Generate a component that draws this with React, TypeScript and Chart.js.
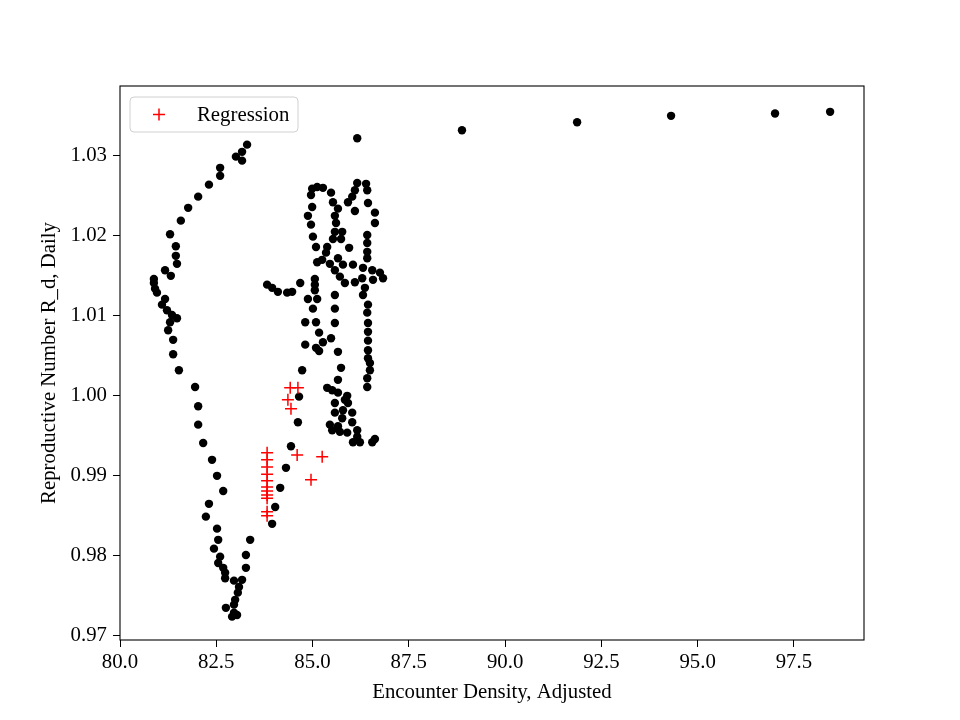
import { useEffect, useRef } from "react";
import { Chart, registerables } from "chart.js";
Chart.register(...registerables);

const blackX = [
  86.16, 88.88, 91.87, 94.31, 97.01, 98.44,
  83.30, 83.17, 83.01, 83.17, 82.60, 82.60, 82.31, 82.03, 81.77, 81.58, 81.30, 81.45, 81.45, 81.48,
  81.17, 81.32, 80.88, 80.88, 80.91, 80.96, 81.17, 81.09, 81.22, 81.35, 81.48, 81.30, 81.25, 81.38,
  81.38, 81.53, 81.95, 82.03, 82.03, 82.16, 82.39, 82.52, 82.68, 82.31, 82.23, 82.52, 82.55, 82.44,
  82.60, 82.55, 82.68, 82.73, 82.73, 82.96, 83.17, 83.09, 83.06, 82.99, 82.96, 82.75, 82.96, 82.91,
  83.04, 83.27, 83.27, 83.38, 83.95, 84.03, 84.16, 84.31, 84.44, 84.62, 84.65, 84.73,
  83.82, 83.95, 84.10, 84.34, 84.47, 84.68,
  85.06, 85.06, 85.06, 84.88, 85.12, 85.01, 84.81, 85.09, 85.17, 85.27, 85.48, 84.81, 85.09, 85.17, 85.66,
  84.99, 85.12, 85.27, 84.96, 85.48, 85.53, 84.99, 85.66, 84.88, 85.58, 85.61, 84.96, 85.58, 85.77,
  85.01, 85.53, 85.74, 85.09, 85.38, 85.95, 85.35, 85.66, 85.12, 85.25, 85.45, 85.79, 86.05, 85.58,
  85.71, 85.84, 86.10, 86.29, 85.58, 85.58, 85.58, 85.74, 85.66,
  86.16, 86.39, 86.10, 86.42, 86.03, 85.92, 86.44, 86.10, 86.62, 86.62, 86.42, 86.42, 86.42, 86.42,
  86.31, 86.55, 86.75, 86.83, 86.57, 86.36, 86.31, 86.44, 86.42, 86.44, 86.44, 86.44, 86.44, 86.44,
  86.49, 86.49, 86.42, 86.42,
  85.38, 85.51, 85.66, 85.90, 85.58, 85.92, 85.58, 86.03, 85.77, 86.03, 85.51, 85.71, 85.90, 86.16,
  86.16, 86.05, 86.23, 86.55, 86.62, 85.45, 85.66, 85.79, 85.84,
];
const blackY = [
  1.0321, 1.0331, 1.0341, 1.0349, 1.0352, 1.0354,
  1.0313, 1.0304, 1.0298, 1.0293, 1.0284, 1.0274, 1.0263, 1.0248, 1.0234, 1.0218, 1.0201, 1.0186, 1.0174, 1.0164,
  1.0156, 1.0149, 1.0145, 1.0140, 1.0133, 1.0128, 1.0120, 1.0113, 1.0106, 1.0100, 1.0096, 1.0091, 1.0081, 1.0069,
  1.0051, 1.0031, 1.0010, 0.9986, 0.9963, 0.9940, 0.9919, 0.9899, 0.9880, 0.9864, 0.9848, 0.9833, 0.9819, 0.9808,
  0.9798, 0.9790, 0.9784, 0.9778, 0.9771, 0.9768, 0.9769, 0.9760, 0.9753, 0.9744, 0.9738, 0.9734, 0.9728, 0.9723,
  0.9725, 0.9784, 0.9800, 0.9819, 0.9839, 0.9860, 0.9884, 0.9909, 0.9936, 0.9966, 0.9998, 1.0031,
  1.0138, 1.0134, 1.0129, 1.0128, 1.0129, 1.0140,
  1.0145, 1.0138, 1.0131, 1.0120, 1.0120, 1.0108, 1.0091, 1.0091, 1.0078, 1.0066, 1.0071, 1.0063, 1.0059, 1.0055, 1.0054,
  1.0258, 1.0260, 1.0259, 1.0250, 1.0253, 1.0241, 1.0235, 1.0233, 1.0224, 1.0224, 1.0215, 1.0213, 1.0204, 1.0204,
  1.0198, 1.0195, 1.0195, 1.0185, 1.0185, 1.0184, 1.0178, 1.0171, 1.0166, 1.0169, 1.0164, 1.0163, 1.0163, 1.0156,
  1.0148, 1.0140, 1.0141, 1.0146, 1.0125, 1.0108, 1.0090, 1.0034, 1.0019,
  1.0265, 1.0264, 1.0256, 1.0256, 1.0248, 1.0241, 1.0240, 1.0230, 1.0228, 1.0215, 1.0200, 1.0190, 1.0179, 1.0171,
  1.0159, 1.0156, 1.0153, 1.0146, 1.0144, 1.0134, 1.0125, 1.0113, 1.0103, 1.0090, 1.0079, 1.0068, 1.0056, 1.0046,
  1.0040, 1.0031, 1.0021, 1.0010,
  1.0009, 1.0006, 1.0003, 0.9999, 0.9990, 0.9990, 0.9978, 0.9978, 0.9971, 0.9966, 0.9956, 0.9954, 0.9953, 0.9956,
  0.9948, 0.9941, 0.9941, 0.9941, 0.9945, 0.9963, 0.9961, 0.9981, 0.9994,
];

const redX = [84.42, 84.62, 84.36, 84.44, 83.82, 83.82, 83.82, 83.82, 83.82, 83.82, 83.82, 83.82, 83.82, 83.82, 83.82, 84.60, 85.25, 84.96];
const redY = [1.0009, 1.0009, 0.9994, 0.9983, 0.9928, 0.9919, 0.9910, 0.9901, 0.9893, 0.9885, 0.9880, 0.9875, 0.9871, 0.9854, 0.9849, 0.9925, 0.9923, 0.9894];

const xTicks = [80.0, 82.5, 85.0, 87.5, 90.0, 92.5, 95.0, 97.5];
const yTicks = [0.97, 0.98, 0.99, 1.0, 1.01, 1.02, 1.03];

const legendLabel = "Regression";
const xTitle = "Encounter Density, Adjusted";
const yTitle = "Reproductive Number R_d, Daily";

const FONT = "'Liberation Serif', 'Times New Roman', serif";
const FS = 20.8;

export default function App() {
  const ref = useRef<HTMLCanvasElement | null>(null);
  useEffect(() => {
    if (!ref.current) return;
    const framePlugin = {
      id: "frame",
      afterDatasetsDraw(chart: any) {
        const { ctx, chartArea } = chart;
        ctx.save();
        ctx.strokeStyle = "#000";
        ctx.lineWidth = 1.1;
        ctx.strokeRect(chartArea.left, chartArea.top, chartArea.right - chartArea.left, chartArea.bottom - chartArea.top);
        // legend
        const lx = chartArea.left + 10, ly = chartArea.top + 11, lw = 168, lh = 35, r = 4;
        ctx.beginPath();
        ctx.moveTo(lx + r, ly);
        ctx.lineTo(lx + lw - r, ly);
        ctx.quadraticCurveTo(lx + lw, ly, lx + lw, ly + r);
        ctx.lineTo(lx + lw, ly + lh - r);
        ctx.quadraticCurveTo(lx + lw, ly + lh, lx + lw - r, ly + lh);
        ctx.lineTo(lx + r, ly + lh);
        ctx.quadraticCurveTo(lx, ly + lh, lx, ly + lh - r);
        ctx.lineTo(lx, ly + r);
        ctx.quadraticCurveTo(lx, ly, lx + r, ly);
        ctx.closePath();
        ctx.fillStyle = "rgba(255,255,255,0.8)";
        ctx.fill();
        ctx.strokeStyle = "#d0d0d0";
        ctx.lineWidth = 1;
        ctx.stroke();
        const cx = lx + 29, cy = ly + lh / 2;
        ctx.strokeStyle = "red";
        ctx.lineWidth = 1.5;
        ctx.beginPath();
        ctx.moveTo(cx - 6, cy);
        ctx.lineTo(cx + 6, cy);
        ctx.moveTo(cx, cy - 6);
        ctx.lineTo(cx, cy + 6);
        ctx.stroke();
        ctx.fillStyle = "#000";
        ctx.font = FS + "px " + FONT;
        ctx.textBaseline = "middle";
        ctx.textAlign = "left";
        ctx.fillText(legendLabel, lx + 67, cy + 1);
        ctx.restore();
      },
    };
    const chart = new Chart(ref.current, {
      type: "scatter",
      data: {
        datasets: [
          {
            label: legendLabel,
            data: redX.map((x, i) => ({ x, y: redY[i] })),
            pointStyle: "cross",
            pointRadius: 6,
            borderColor: "red",
            borderWidth: 1.5,
            backgroundColor: "red",
          },
          {
            label: "data",
            data: blackX.map((x, i) => ({ x, y: blackY[i] })),
            pointStyle: "circle",
            pointRadius: 4.2,
            borderWidth: 0,
            backgroundColor: "#000",
          },
        ],
      },
      options: {
        responsive: false,
        animation: false,
        devicePixelRatio: 1,
        layout: { padding: { left: 0, right: 96, top: 86, bottom: 0 } },
        plugins: { legend: { display: false }, tooltip: { enabled: false } },
        scales: {
          x: {
            type: "linear",
            min: 80.0,
            max: 99.32,
            afterBuildTicks: (s: any) => { s.ticks = xTicks.map((v) => ({ value: v })); },
            afterFit: (s: any) => { s.height = 80; },
            grid: { display: true, drawOnChartArea: false, drawTicks: true, tickLength: 7, color: "#000" },
            border: { display: false },
            ticks: { color: "#000", font: { family: FONT, size: FS }, padding: 3, maxRotation: 0, callback: (v: any) => Number(v).toFixed(1) },
            title: { display: true, text: xTitle, color: "#000", font: { family: FONT, size: FS }, padding: { top: 0, bottom: 15 } },
          },
          y: {
            type: "linear",
            min: 0.96938,
            max: 1.03863,
            afterBuildTicks: (s: any) => { s.ticks = yTicks.map((v) => ({ value: v })); },
            afterFit: (s: any) => { s.width = 120; },
            grid: { display: true, drawOnChartArea: false, drawTicks: true, tickLength: 7, color: "#000" },
            border: { display: false },
            ticks: { color: "#000", font: { family: FONT, size: FS }, padding: 6, callback: (v: any) => Number(v).toFixed(2) },
            title: { display: true, text: yTitle, color: "#000", font: { family: FONT, size: FS }, padding: { top: 37, bottom: 0 } },
          },
        },
      },
      plugins: [framePlugin],
    });
    return () => chart.destroy();
  }, []);
  return (
    <div style={{ position: "fixed", left: 0, top: 0, width: 960, height: 720, background: "#fff" }}>
      <canvas ref={ref} width={960} height={720} style={{ width: 960, height: 720 }} />
    </div>
  );
}
